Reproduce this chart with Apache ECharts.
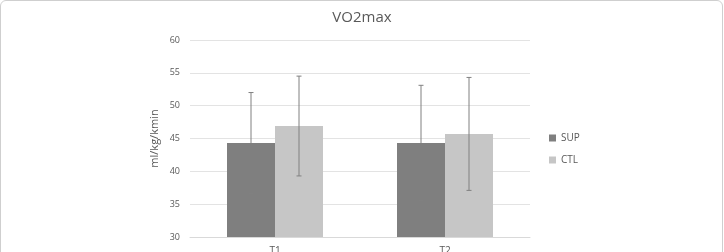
<!DOCTYPE html>
<html>
<head>
<meta charset="utf-8">
<script src="https://cdn.jsdelivr.net/npm/echarts@6/dist/echarts.min.js"></script>
<style>
  html, body { margin: 0; padding: 0; background: #fff; overflow: hidden; }
  .frame {
    position: absolute; left: 0; top: 0;
    width: 721px; height: 270px;
    border: 1px solid #cfcfcf; border-radius: 6px;
  }
  #chart { position: absolute; left: 0; top: 0; width: 724px; height: 252px; }
</style>
</head>
<body>
<div class="frame"></div>
<div id="chart"></div>
<script>
const categories = ['T1', 'T2']
const seriesNames = ['SUP', 'CTL']
const supMean = [44.3, 44.3]
const supSd = [7.7, 8.8]
const ctlMean = [46.9, 45.7]
const ctlSd = [7.6, 8.6]
const yTicks = [30, 35, 40, 45, 50, 55, 60]

const textColor = '#595959'
const barWidth = 48
const colors = ['#7f7f7f', '#c6c6c6']

const chart = echarts.init(document.getElementById('chart'))

// error bars drawn on top of each bar, shifted half a bar from the category centre
function errorSeries(means, sds, shift) {
  return {
    type: 'custom',
    z: 5,
    silent: true,
    data: means.map((m, i) => [i, m - sds[i], m + sds[i]]),
    renderItem(params, api) {
      const lo = api.coord([api.value(0), api.value(1)])
      const hi = api.coord([api.value(0), api.value(2)])
      const x = lo[0] + shift
      const cap = 2.5
      const style = {stroke: '#808080', lineWidth: 1}
      return {
        type: 'group',
        children: [
          {type: 'line', shape: {x1: x, y1: lo[1], x2: x, y2: hi[1]}, style},
          {type: 'line', shape: {x1: x - cap, y1: hi[1], x2: x + cap, y2: hi[1]}, style},
          {type: 'line', shape: {x1: x - cap, y1: lo[1], x2: x + cap, y2: lo[1]}, style}
        ]
      }
    }
  }
}

const option = {
  animation: false,
  textStyle: {fontFamily: 'Open Sans'},
  title: {
    text: 'VO2max',
    left: 'center',
    top: 5,
    textStyle: {color: textColor, fontSize: 15, fontWeight: 'normal', fontFamily: 'Open Sans'}
  },
  legend: {
    data: seriesNames,
    orient: 'vertical',
    left: 544,
    top: 128,
    itemWidth: 7,
    itemHeight: 7,
    itemGap: 12,
    icon: 'rect',
    textStyle: {color: textColor, fontSize: 10}
  },
  grid: {
    left: 190,
    right: 194,
    top: 40,
    bottom: 15,
    outerBoundsMode: 'none'
  },
  xAxis: {
    type: 'category',
    data: categories,
    axisTick: {show: false},
    axisLine: {lineStyle: {color: '#d9d9d9'}},
    axisLabel: {color: textColor, fontSize: 10, margin: 9}
  },
  yAxis: {
    type: 'value',
    min: yTicks[0],
    max: yTicks[yTicks.length - 1],
    interval: 5,
    name: 'ml/kg/kmin',
    nameLocation: 'middle',
    nameGap: 30,
    nameTextStyle: {color: textColor, fontSize: 11},
    axisLine: {show: false},
    axisTick: {show: false},
    axisLabel: {color: textColor, fontSize: 9, margin: 10},
    splitLine: {lineStyle: {color: '#e3e3e3'}}
  },
  series: [
    {
      name: 'SUP',
      type: 'bar',
      barWidth,
      barGap: '0%',
      itemStyle: {color: colors[0]},
      data: supMean
    },
    {
      name: 'CTL',
      type: 'bar',
      barWidth,
      barGap: '0%',
      itemStyle: {color: colors[1]},
      data: ctlMean
    },
    errorSeries(supMean, supSd, -barWidth / 2),
    errorSeries(ctlMean, ctlSd, barWidth / 2)
  ]
}

chart.setOption(option)
</script>
</body>
</html>
